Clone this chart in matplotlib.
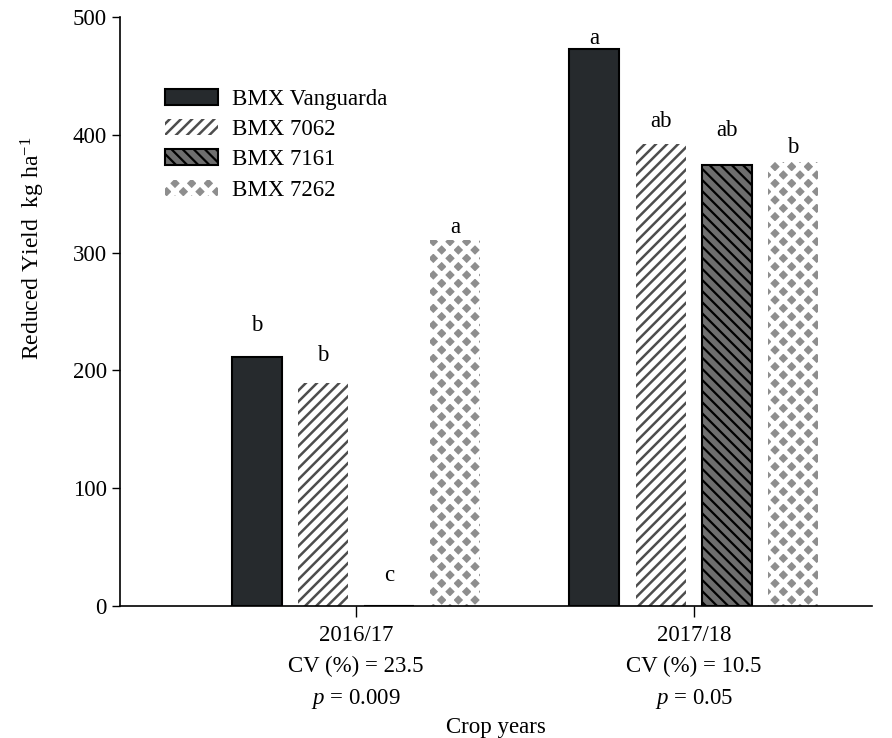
import numpy as np
import matplotlib
matplotlib.use("Agg")
import matplotlib.pyplot as plt

years = ["2016/17", "2017/18"]
cv_values = ["23.5", "10.5"]
p_values = ["0.009", "0.05"]
cultivars = ["BMX Vanguarda", "BMX 7062", "BMX 7161", "BMX 7262"]

# reduced yield (kg/ha) per cultivar, one value per crop year
yield_vanguarda = [211, 473]
yield_7062 = [189, 392]
yield_7161 = [0, 374]
yield_7262 = [311, 377]

# letters of mean comparison, and their heights
letters_vanguarda = ["b", "a"]
letters_7062 = ["b", "ab"]
letters_7161 = ["c", "ab"]
letters_7262 = ["a", "b"]
letter_y_vanguarda = [238, 482]
letter_y_7062 = [213, 411]
letter_y_7161 = [26, 404]
letter_y_7262 = [321, 389]

plt.rcParams["font.family"] = ["Liberation Serif", "DejaVu Serif"]
plt.rcParams["mathtext.fontset"] = "custom"
plt.rcParams["mathtext.rm"] = "Liberation Serif"
plt.rcParams["mathtext.it"] = "Liberation Serif:italic"
FS = 16.5

fig = plt.figure(figsize=(8.92, 7.38), dpi=100)
ax = fig.add_axes([0.1345, 0.1789, 0.843, 0.798])

x = np.arange(len(years))
step = 0.196
width = 0.148

styles = [
    dict(facecolor="#262a2d", edgecolor="black", linewidth=1.5),
    dict(facecolor="white", edgecolor="#4d4d4d", linewidth=0, hatch="///"),
    dict(facecolor="#6e6e6e", edgecolor="black", linewidth=1.5, hatch="\\\\\\"),
    dict(facecolor="#8e8e8e", edgecolor="white", linewidth=0, hatch="xx"),
]
hatch_lw = [1.0, 1.8, 1.6, 3.6]
series = [yield_vanguarda, yield_7062, yield_7161, yield_7262]
letters = [letters_vanguarda, letters_7062, letters_7161, letters_7262]
letter_y = [letter_y_vanguarda, letter_y_7062, letter_y_7161, letter_y_7262]


def set_hlw(patch, lw):
    if hasattr(patch, "set_hatch_linewidth"):
        patch.set_hatch_linewidth(lw)
    else:
        patch._hatch_linewidth = lw


for i, (vals, st, lab) in enumerate(zip(series, styles, cultivars)):
    xs = x + (i - 1.5) * step
    bars = ax.bar(xs, vals, width, label=lab, **st)
    for b in bars:
        set_hlw(b, hatch_lw[i])
    for xx, t, yy in zip(xs, letters[i], letter_y[i]):
        ax.text(xx, yy, t, ha="center", va="center", fontsize=FS)

ax.set_xlim(-0.698, 1.527)
ax.set_ylim(0, 500)
ax.set_yticks(range(0, 501, 100))
ax.set_xticks(x)
ax.set_xticklabels([f"{y}\nCV (%) = {c}\n$\\mathit{{p}}$ = {p}"
                    for y, c, p in zip(years, cv_values, p_values)],
                   fontsize=FS, linespacing=1.6)
ax.tick_params(axis="y", labelsize=FS, direction="out", length=6, width=1)
ax.tick_params(axis="x", direction="out", length=8, width=1, pad=6)
for s in ["top", "right"]:
    ax.spines[s].set_visible(False)
for s in ["left", "bottom"]:
    ax.spines[s].set_linewidth(1.2)

ax.set_ylabel("Reduced Yield  kg ha$^{-1}$", fontsize=FS + 0.5)
ax.yaxis.set_label_coords(-0.097, 0.608)
ax.set_xlabel("Crop years", fontsize=FS)
ax.xaxis.set_label_coords(0.5, -0.188)

leg = ax.legend(loc="upper left", bbox_to_anchor=(0.06, 0.878), frameon=False,
                fontsize=FS, handlelength=2.3, handleheight=0.7, handletextpad=0.6,
                labelspacing=0.4, borderpad=0, borderaxespad=0)
for h, lw in zip(leg.legend_handles, hatch_lw):
    set_hlw(h, lw)

fig.savefig("out.png", dpi=100)
